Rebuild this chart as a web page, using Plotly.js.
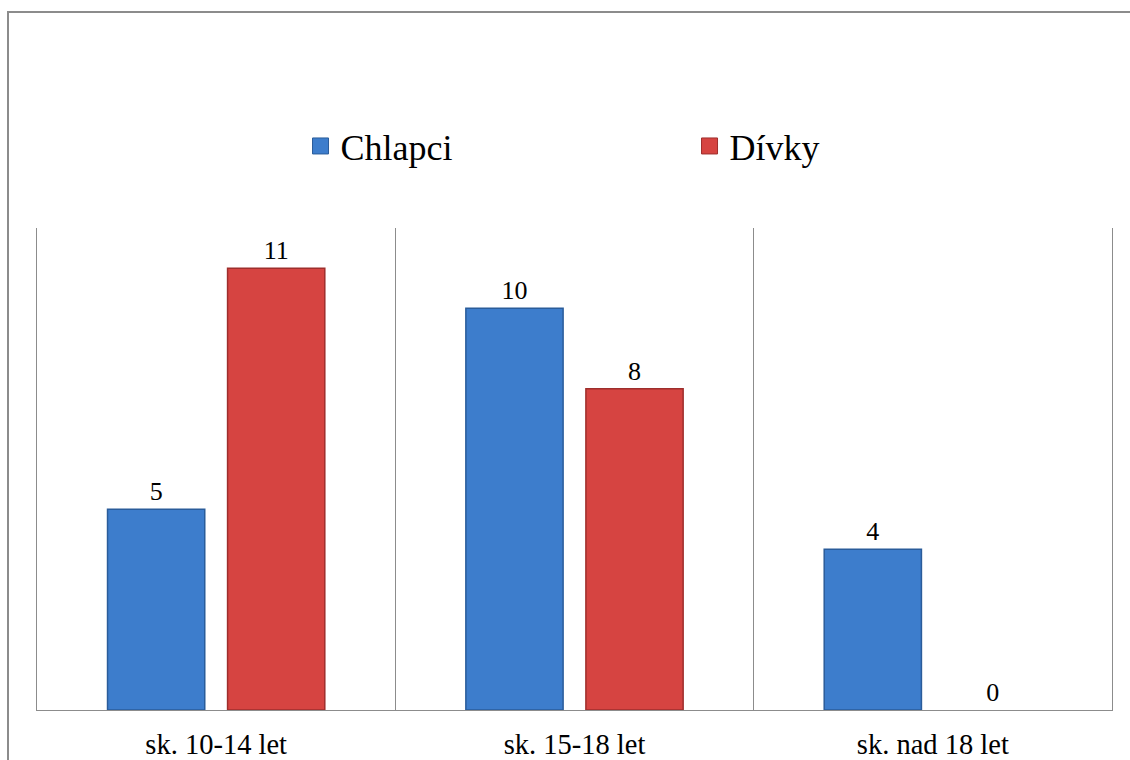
<!DOCTYPE html>
<html>
<head>
<meta charset="utf-8">
<script src="https://cdn.plot.ly/plotly-3.0.1.min.js"></script>
</head>
<body style="margin:0;background:#ffffff">
<div style="position:relative;width:1130px;height:760px;overflow:hidden">
<div id="chart"></div>
<div style="position:absolute;left:7px;top:11px;width:1300px;height:900px;border-left:2px solid #8c8c8c;border-top:2px solid #8c8c8c;pointer-events:none"></div>
</div>
<script>
const categories = ["sk. 10-14 let", "sk. 15-18 let", "sk. nad 18 let"];
const chlapci = [5, 10, 4];
const divky = [11, 8, 0];
const seriesNames = ["Chlapci", "Dívky"];

const serifFont = "Times New Roman";
const blue = "#3D7DCC", blueEdge = "#2A5C9A";
const red = "#D64441", redEdge = "#9E2E2C";
const frameColor = "#8c8c8c";

function barTrace(name, vals, col, edge) {
  return {
    type: "bar", name: name, x: categories, y: vals, showlegend: false,
    marker: { color: col, line: { color: edge, width: vals.map(v => v > 0 ? 1.5 : 0) } },
    text: vals.map(String), textposition: "outside", cliponaxis: false,
    textfont: { family: serifFont, size: 26, color: "#000000" }
  };
}
function legendTrace(name, col, edge) {
  return {
    type: "scatter", mode: "markers", name: name, x: [categories[0]], y: [null], yaxis: "y2",
    marker: { symbol: "square", size: 16, color: col, line: { color: edge, width: 1 } },
    showlegend: true
  };
}

const traces = [
  barTrace(seriesNames[0], chlapci, blue, blueEdge),
  barTrace(seriesNames[1], divky, red, redEdge),
  legendTrace(seriesNames[0], blue, blueEdge),
  legendTrace(seriesNames[1], red, redEdge)
];

const layout = {
  width: 1130, height: 760,
  margin: { l: 37, r: 18, t: 228, b: 50 },
  font: { family: serifFont, size: 20, color: "#000000" },
  barmode: "group", bargap: 0.33, bargroupgap: 0.19,
  legend: {
    orientation: "h", x: 0.607, xanchor: "center", y: 1.17, yanchor: "middle",
    font: { family: serifFont, size: 36, color: "#000000" },
    entrywidth: 344, entrywidthmode: "pixels",
    traceorder: "normal"
  },
  xaxis: {
    type: "category", tickson: "boundaries", showgrid: true, gridcolor: frameColor, gridwidth: 1,
    ticks: "", showline: true, linecolor: frameColor, linewidth: 1,
    tickfont: { family: serifFont, size: 28.5, color: "#000000" },
    ticklabelstandoff: 9
  },
  yaxis: {
    range: [0, 12], showgrid: false, zeroline: false, showticklabels: false, ticks: "",
    showline: true, linecolor: frameColor, linewidth: 1
  },
  yaxis2: {
    overlaying: "y", side: "right", range: [0, 12], showgrid: false, zeroline: false,
    showticklabels: false, ticks: "", showline: true, linecolor: frameColor, linewidth: 1
  }
};

Plotly.newPlot("chart", traces, layout, { displayModeBar: false });
</script>
</body>
</html>
